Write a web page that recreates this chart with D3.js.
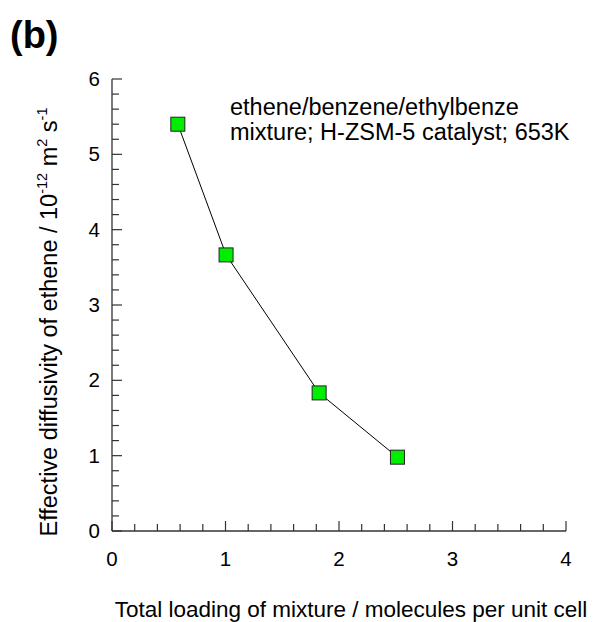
<!DOCTYPE html>
<html><head><meta charset="utf-8">
<script src="https://cdn.jsdelivr.net/npm/d3@7"></script>
<style>body{margin:0;background:#fff}svg{display:block}text{font-family:Arial,"Liberation Sans",sans-serif;fill:#000}</style>
</head><body>
<script>
const loading = [0.58, 1.005, 1.825, 2.515];
const diffusivity = [5.40, 3.665, 1.833, 0.98];
const xTicks = [0, 1, 2, 3, 4];
const yTicks = [0, 1, 2, 3, 4, 5, 6];

const W = 595, H = 622;
const svg = d3.select("body").append("svg").attr("width", W).attr("height", H);
const x = d3.scaleLinear().domain([0, 4]).range([112, 566]);
const y = d3.scaleLinear().domain([0, 6]).range([531, 79]);
const axisColor = "#333";

svg.append("line").attr("x1", x(0)).attr("x2", x(4)).attr("y1", y(0)).attr("y2", y(0)).attr("stroke", axisColor).attr("stroke-width", 1.3);
svg.append("line").attr("x1", x(0)).attr("x2", x(0)).attr("y1", y(0)).attr("y2", y(6)).attr("stroke", axisColor).attr("stroke-width", 1.3);

const xMinor = d3.range(0, 4.0001, 0.2);
svg.selectAll(".xt").data(xMinor).join("line")
  .attr("x1", d => x(d)).attr("x2", d => x(d))
  .attr("y1", y(0)).attr("y2", d => y(0) - (Math.abs(d - Math.round(d)) < 1e-6 ? 10 : 7))
  .attr("stroke", axisColor).attr("stroke-width", 1.2);
const yMinor = d3.range(0, 6.0001, 0.2);
svg.selectAll(".yt").data(yMinor).join("line")
  .attr("y1", d => y(d)).attr("y2", d => y(d))
  .attr("x1", x(0)).attr("x2", d => x(0) + (Math.abs(d - Math.round(d)) < 1e-6 ? 10 : 7))
  .attr("stroke", axisColor).attr("stroke-width", 1.2);

svg.selectAll(".xl").data(xTicks).join("text")
  .attr("x", d => x(d)).attr("y", 566).attr("text-anchor", "middle")
  .attr("font-size", 20.5).text(d => d);
svg.selectAll(".yl").data(yTicks).join("text")
  .attr("x", 100).attr("y", d => y(d) + 7).attr("text-anchor", "end")
  .attr("font-size", 20.5).text(d => d);

const pts = loading.map((v, i) => [v, diffusivity[i]]);
svg.append("path").datum(pts)
  .attr("d", d3.line().x(d => x(d[0])).y(d => y(d[1])))
  .attr("fill", "none").attr("stroke", "#000").attr("stroke-width", 1);
const s = 14;
svg.selectAll(".pt").data(pts).join("rect")
  .attr("x", d => x(d[0]) - s / 2).attr("y", d => y(d[1]) - s / 2)
  .attr("width", s).attr("height", s)
  .attr("fill", "#00ee00").attr("stroke", "#222").attr("stroke-width", 1);

svg.append("text").attr("x", 230).attr("y", 115).attr("font-size", 23.5).text("ethene/benzene/ethylbenze");
svg.append("text").attr("x", 230).attr("y", 140).attr("font-size", 23.5).text("mixture; H-ZSM-5 catalyst; 653K");

svg.append("text").attr("x", 10).attr("y", 48).attr("font-size", 38).attr("font-weight", "bold").text("(b)");

svg.append("text").attr("x", 351).attr("y", 617).attr("text-anchor", "middle").attr("font-size", 22.5)
  .text("Total loading of mixture / molecules per unit cell");

const yl = svg.append("text").attr("transform", "translate(57,322) rotate(-90)")
  .attr("text-anchor", "middle").attr("font-size", 23.5);
yl.append("tspan").text("Effective diffusivity of ethene / 10");
yl.append("tspan").attr("dy", -10).attr("font-size", 14.5).text("-12");
yl.append("tspan").attr("dy", 10).text(" m");
yl.append("tspan").attr("dy", -10).attr("font-size", 14.5).text("2");
yl.append("tspan").attr("dy", 10).text(" s");
yl.append("tspan").attr("dy", -10).attr("font-size", 14.5).text("-1");
</script>
</body></html>
